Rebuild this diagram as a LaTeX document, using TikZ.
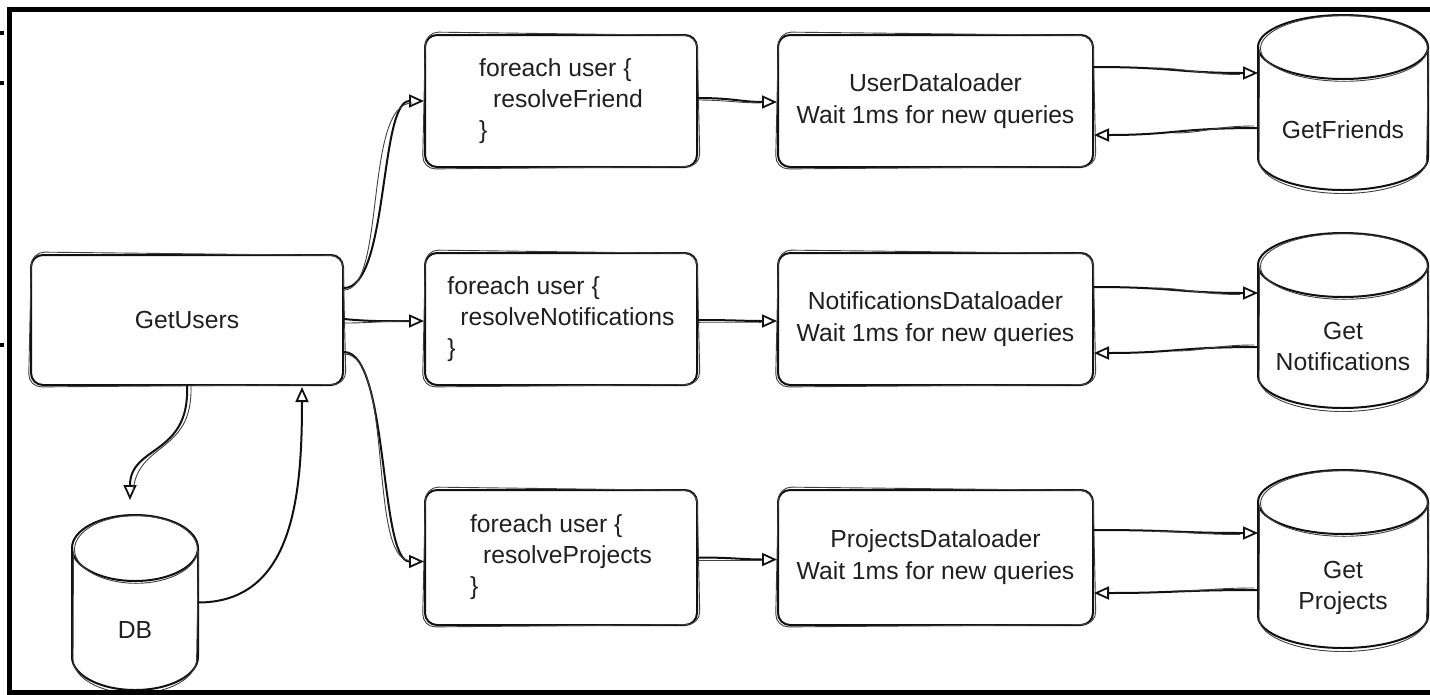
\documentclass[tikz,border=0pt]{standalone}
\usepackage{fontspec}
\setmainfont{Liberation Sans}
\usetikzlibrary{arrows.meta}
\definecolor{inkc}{HTML}{111111}
\definecolor{txtc}{HTML}{202020}

% second, lighter pencil stroke around a box node
\newcommand{\ghostbox}[1]{%
  \draw[ghost, rounded corners=13pt]
    ([shift={(1.5,-2)}]#1.north west) -- ([shift={(-1,1.5)}]#1.north east)
    -- ([shift={(2,-1.5)}]#1.south east) -- ([shift={(-1.5,1)}]#1.south west) -- cycle;}

% database drum: #1 name, #2 centre x, #3 top, #4 bottom, #5 x radius, #6 y radius
\newcommand{\drum}[6]{%
  \node[inner sep=0pt, outer sep=0pt, minimum width={2*#5}, minimum height={#4-#3}] (#1) at (#2,{(#3+#4)/2}) {};
  \draw[ink] (#2,#3+#6) ellipse [x radius=#5pt, y radius=#6pt];
  \draw[ink] (#2-#5,#3+#6) -- (#2-#5,#4-#6)
    arc[start angle=180, end angle=360, x radius=#5pt, y radius=#6pt] -- (#2+#5,#3+#6);
  \draw[ghost] (#2+1,#3+#6+1.5) ellipse [x radius=#5pt-1.5pt, y radius=#6pt+0.8pt];
  \draw[ghost] (#2-#5+1.5,#3+#6+4) -- (#2-#5+1,#4-#6+2)
    arc[start angle=180, end angle=360, x radius=#5pt-1.2pt, y radius=#6pt+1.5pt] -- (#2+#5+0.5,#3+#6+3);}

\begin{document}
\begin{tikzpicture}[x=1pt,y=-1pt,
  ink/.style={draw=inkc, line width=2pt, line cap=round, line join=round},
  ghost/.style={draw=inkc!80, line width=0.9pt, line cap=round, line join=round},
  txt/.style={text=txtc, font=\fontsize{24.7}{31}\selectfont, inner sep=0pt},
  box/.style={ink, rounded corners=12pt, txt},
  arr/.style={ink, -{Triangle[open, length=15pt, width=13pt, line width=1.8pt]}},
]
\useasboundingbox (0,0) rectangle (1430,694);
\fill[white] (0,0) rectangle (1430,694);

% ---- boxes ----
\node[box, minimum width=312pt, minimum height=130pt] (gu) at (187,320) {GetUsers};

\node[box, align=left, minimum width=272pt, minimum height=132pt] (fe1) at (561,101)
  {foreach user \{\\\hspace*{14pt}resolveFriend\\\}};
\node[box, align=left, minimum width=272pt, minimum height=132pt] (fe2) at (561,319)
  {foreach user \{\\\hspace*{13pt}resolveNotifications\\\}};
\node[box, align=left, minimum width=272pt, minimum height=135pt] (fe3) at (561,557.5)
  {foreach user \{\\\hspace*{13pt}resolveProjects\\\}};

\node[box, align=center, font=\fontsize{24.7}{32}\selectfont, minimum width=315pt, minimum height=132pt] (dl1) at (935.5,101)
  {UserDataloader\\Wait 1ms for new queries};
\node[box, align=center, font=\fontsize{24.7}{32}\selectfont, minimum width=315pt, minimum height=132pt] (dl2) at (935.5,319)
  {NotificationsDataloader\\Wait 1ms for new queries};
\node[box, align=center, font=\fontsize{24.7}{32}\selectfont, minimum width=315pt, minimum height=135pt] (dl3) at (935.5,557.5)
  {ProjectsDataloader\\Wait 1ms for new queries};

\ghostbox{gu}
\ghostbox{fe1}\ghostbox{fe2}\ghostbox{fe3}
\ghostbox{dl1}\ghostbox{dl2}\ghostbox{dl3}

% ---- databases ----
\drum{db}{135}{515}{690}{63}{33}
\drum{c1}{1343}{15}{190}{85}{32}
\drum{c2}{1343}{233}{408}{85}{32}
\drum{c3}{1343}{470}{648}{85}{32}

\node[txt] (dbt) at (135,630) {DB};
\node[txt] (c1t) at (1343,130) {GetFriends};
\node[txt, align=center] (c2t) at (1343,346) {Get\\Notifications};
\node[txt, align=center] (c3t) at (1343,587.5) {Get\\Projects};

% ---- GetUsers fan-out ----
\draw[arr] ([shift={(0,-32)}]gu.east) .. controls +(45,0) and +(-45,0) .. (fe1.west);
\draw[ghost] ([shift={(0,-30)}]gu.east) .. controls +(42,0) and +(-48,0) .. ([shift={(-12,2)}]fe1.west);
\draw[arr] ([shift={(0,-1)}]gu.east) .. controls +(30,3) and +(-30,0) .. ([shift={(0,2)}]fe2.west);
\draw[ghost] ([shift={(0,3)}]gu.east) .. controls +(30,0) and +(-30,0) .. ([shift={(-14,2)}]fe2.west);
\draw[arr] ([shift={(0,32)}]gu.east) .. controls +(45,0) and +(-45,0) .. ([shift={(0,4)}]fe3.west);
\draw[ghost] ([shift={(0,34)}]gu.east) .. controls +(50,0) and +(-42,0) .. ([shift={(-14,3)}]fe3.west);

% ---- GetUsers <-> DB ----
\draw[arr] (gu.south) .. controls +(3,70) and +(0,-55) .. ([shift={(-5,-15)}]db.north);
\draw[ghost] ([shift={(4,0)}]gu.south) .. controls +(2,68) and +(5,-50) .. ([shift={(-2,-24)}]db.north);
\draw[arr] (db.east) .. controls +(95,0) and +(0,110) .. ([shift={(115,1)}]gu.south);

% ---- foreach -> dataloader ----
\draw[arr] ([shift={(0,-3)}]fe1.east) .. controls +(35,0) and +(-35,0) .. ([shift={(0,1)}]dl1.west);
\draw[ghost] ([shift={(0,-1)}]fe1.east) .. controls +(25,0) and +(-20,0) .. ([shift={(-16,2)}]dl1.west);
\draw[arr] ([shift={(0,1)}]fe2.east) .. controls +(35,0) and +(-35,0) .. ([shift={(0,2)}]dl2.west);
\draw[ghost] ([shift={(0,3)}]fe2.east) .. controls +(25,0) and +(-20,0) .. ([shift={(-16,3)}]dl2.west);
\draw[arr] ([shift={(0,0)}]fe3.east) .. controls +(35,0) and +(-35,0) .. ([shift={(0,2)}]dl3.west);
\draw[ghost] ([shift={(0,3)}]fe3.east) .. controls +(25,0) and +(-20,0) .. ([shift={(-16,3)}]dl3.west);

% ---- dataloader <-> query ----
\draw[arr] ([shift={(0,-34)}]dl1.east) .. controls +(80,0) and +(-80,0) .. ([shift={(0,-29.5)}]c1.west);
\draw[ghost] ([shift={(60,-33)}]dl1.east) .. controls +(30,0) and +(-40,0) .. ([shift={(-18,-28)}]c1.west);
\draw[arr] ([shift={(0,25.5)}]c1.west) .. controls +(-80,0) and +(80,0) .. ([shift={(0,34)}]dl1.east);
\draw[ghost] ([shift={(-4,23.5)}]c1.west) .. controls +(-40,0) and +(30,0) .. ([shift={(80,32)}]dl1.east);

\draw[arr] ([shift={(0,-32)}]dl2.east) .. controls +(80,0) and +(-80,0) .. ([shift={(0,-27.5)}]c2.west);
\draw[ghost] ([shift={(60,-31)}]dl2.east) .. controls +(30,0) and +(-40,0) .. ([shift={(-18,-26)}]c2.west);
\draw[arr] ([shift={(0,26.5)}]c2.west) .. controls +(-80,0) and +(80,0) .. ([shift={(0,34)}]dl2.east);
\draw[ghost] ([shift={(-4,24.5)}]c2.west) .. controls +(-40,0) and +(30,0) .. ([shift={(80,32)}]dl2.east);

\draw[arr] ([shift={(0,-27.5)}]dl3.east) .. controls +(80,0) and +(-80,0) .. ([shift={(0,-26)}]c3.west);
\draw[ghost] ([shift={(60,-26)}]dl3.east) .. controls +(30,0) and +(-40,0) .. ([shift={(-18,-24.5)}]c3.west);
\draw[arr] ([shift={(0,31)}]c3.west) .. controls +(-80,0) and +(80,0) .. ([shift={(0,35.5)}]dl3.east);
\draw[ghost] ([shift={(-4,29)}]c3.west) .. controls +(-40,0) and +(30,0) .. ([shift={(80,33.5)}]dl3.east);

% ---- outer frame and edge ticks ----
\draw[line width=5pt, line cap=rect] (1430,9.5) -- (9.5,9.5) -- (9.5,692.5) -- (1430,692.5);
\draw[line width=3.5pt] (0,33) -- (4,33);
\draw[line width=3.5pt] (0,83) -- (4,83);
\draw[line width=3.5pt] (0,345) -- (4,345);
\end{tikzpicture}
\end{document}
